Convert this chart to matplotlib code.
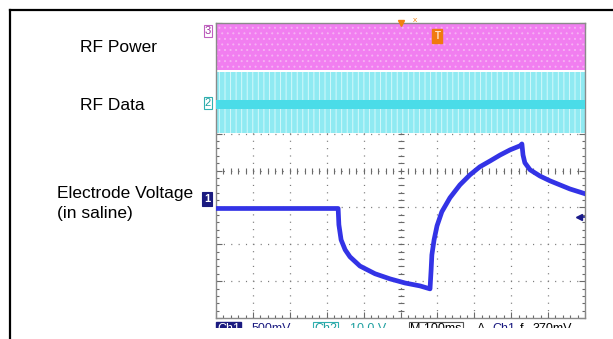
import numpy as np
import matplotlib
matplotlib.use("Agg")
import matplotlib.pyplot as plt
from matplotlib.patches import Rectangle
from matplotlib.lines import Line2D

plt.rcParams["font.family"] = ["Liberation Sans", "DejaVu Sans"]
plt.rcParams["lines.scale_dashes"] = False
plt.rcParams["hatch.linewidth"] = 0.7

# time axis: 100 ms / div, 10 div ; vertical axis in divisions (0..8)
rf_power_t = [0, 1000]
rf_power_hi = [8.0, 8.0]
rf_power_lo = [6.73, 6.73]

rf_data_t = [0, 1000]
rf_data_hi = [6.67, 6.67]
rf_data_lo = [5.02, 5.02]
rf_data_mid_hi = [5.90, 5.90]
rf_data_mid_lo = [5.68, 5.68]

electrode_t = [0, 331, 333, 339, 350, 363, 390, 431, 472, 512, 553, 580,
               583, 585, 591, 599, 612, 634, 661, 688, 715, 743, 770, 797, 824, 829,
               832, 837, 851, 878, 905, 932, 959, 1000]
electrode_v = [2.97, 2.97, 2.53, 2.12, 1.85, 1.66, 1.41, 1.20, 1.06, 0.95, 0.87, 0.79,
               1.31, 1.71, 2.12, 2.50, 2.88, 3.26, 3.61, 3.88, 4.10, 4.26, 4.42, 4.56, 4.67, 4.72,
               4.42, 4.21, 4.02, 3.85, 3.72, 3.61, 3.50, 3.37]
trigger_level = 2.75

labels = ["RF Power", "RF Data", "Electrode Voltage", "(in saline)"]

W, H = 613, 339


def fx(px):
    return px / W


def fy(py):
    return 1 - py / H


fig = plt.figure(figsize=(6.13, 3.39), dpi=100)
fig.patch.set_facecolor("white")

ax = fig.add_axes([fx(216), fy(318), 369 / W, 295 / H])
ax.set_xlim(0, 1000)
ax.set_ylim(0, 8)

# traces
ax.fill_between(rf_power_t, rf_power_lo, rf_power_hi, facecolor="#F17EF0",
                edgecolor="#F6B0F4", hatch="...", linewidth=0, zorder=2)
ax.fill_between(rf_data_t, rf_data_lo, rf_data_hi, facecolor="#8FEAF2",
                edgecolor="#D4F9FB", hatch="|||", linewidth=0, zorder=2)
ax.fill_between(rf_data_t, rf_data_mid_lo, rf_data_mid_hi, facecolor="#4ADCE8",
                linewidth=0, zorder=3)

ax.plot(electrode_t, electrode_v, color="#3333E6", lw=3.4, zorder=5,
        solid_joinstyle="round")

# graticule
for gx in range(100, 1000, 100):
    ax.axvline(gx, color="#7A7A7A", lw=0.9, linestyle=(0, (0.8, 4.5)), zorder=1)
for gy in range(1, 8):
    ax.axhline(gy, color="#7A7A7A", lw=0.9, linestyle=(0, (0.8, 4.5)), zorder=1)

minor_x = np.arange(0, 1001, 20)
minor_y = np.arange(0, 8.01, 0.2)
ax.plot(np.full(minor_y.size, 500), minor_y, ls="none", marker="_", ms=5,
        mew=0.8, color="#6A6A6A", zorder=1)
ax.plot(minor_x, np.full(minor_x.size, 4), ls="none", marker="|", ms=5,
        mew=0.8, color="#6A6A6A", zorder=1)

ax.set_xticks(np.arange(0, 1001, 100))
ax.set_yticks(np.arange(0, 8.01, 1))
ax.set_xticks(minor_x, minor=True)
ax.set_yticks(minor_y, minor=True)
ax.tick_params(which="both", direction="in", top=True, right=True,
               labelbottom=False, labelleft=False, color="#6A6A6A", width=0.8)
ax.tick_params(which="major", length=4)
ax.tick_params(which="minor", length=2.5)
for s in ax.spines.values():
    s.set_color("#8A8A8A")
    s.set_linewidth(1.0)

# trigger markers
ax.plot([500], [8], marker="v", ms=5, color="#F08010", clip_on=False, zorder=6)
ax.text(600, 7.65, "T", fontsize=7, color="#FFE0C0", ha="center", va="center",
        fontweight="bold",
        bbox=dict(boxstyle="square,pad=0.2", fc="#F07A10", ec="#F07A10"), zorder=6)
fig.text(fx(415), fy(20), "x", fontsize=6, color="#F08010", ha="center", va="center")
ax.plot([985], [trigger_level], marker="<", ms=4.5, color="#1A1A8A", clip_on=False, zorder=6)
ax.add_line(Line2D([985, 1000], [trigger_level, trigger_level], color="#1A1A8A", lw=1.2))

# channel markers on the left
fig.text(fx(208), fy(31), "3", fontsize=8, color="#A030A0", ha="center", va="center",
         bbox=dict(boxstyle="square,pad=0.1", fc="white", ec="#C060C0", lw=0.8))
fig.text(fx(208), fy(103), "2", fontsize=8, color="#20A0A0", ha="center", va="center",
         bbox=dict(boxstyle="square,pad=0.1", fc="white", ec="#30B0B0", lw=0.8))
fig.text(fx(207), fy(199), "1", fontsize=8, color="white", ha="center", va="center",
         fontweight="bold",
         bbox=dict(boxstyle="square,pad=0.15", fc="#1A1A80", ec="#1A1A80", lw=0.8))

# channel labels
fig.text(fx(80), fy(52), labels[0], fontsize=12.5, color="black", va="baseline")
fig.text(fx(80), fy(110), labels[1], fontsize=12.5, color="black", va="baseline")
fig.text(fx(57), fy(197.5), labels[2], fontsize=12.5, color="black", va="baseline")
fig.text(fx(57), fy(218), labels[3], fontsize=12.5, color="black", va="baseline")

# status bar (cut off)
sb_y = fy(323)
fig.text(fx(217), sb_y, "Ch1", fontsize=9, color="white", va="top", zorder=5,
         bbox=dict(boxstyle="square,pad=0.1", fc="#1A1A80", ec="#1A1A80"))
fig.text(fx(252), sb_y, "500mV", fontsize=9, color="#1A1A80", va="top", zorder=5)
fig.text(fx(314), sb_y, "Ch2", fontsize=9, color="#20A0A0", va="top", zorder=5,
         bbox=dict(boxstyle="square,pad=0.1", fc="white", ec="#30B0B0", lw=0.8))
fig.text(fx(350), sb_y, "10.0 V", fontsize=9, color="#20A0A0", va="top", zorder=5)
fig.text(fx(410), sb_y, "M 100ms", fontsize=9, color="black", va="top", zorder=5,
         bbox=dict(boxstyle="square,pad=0.1", fc="white", ec="#555555", lw=0.8))
fig.text(fx(477), sb_y, "A", fontsize=9, color="black", va="top", zorder=5)
fig.text(fx(492), sb_y, "Ch1", fontsize=9, color="#1A1A80", va="top", zorder=5)
fig.text(fx(520), sb_y, "f", fontsize=9, color="black", va="top", zorder=5)
fig.text(fx(533), sb_y, "370mV", fontsize=9, color="black", va="top", zorder=5)
fig.patches.append(Rectangle((fx(150), 0), 1 - fx(150), fy(328), transform=fig.transFigure,
                             fc="white", ec="none", zorder=10))
fig.patches.append(Rectangle((fx(590), 0), 1 - fx(590), fy(321), transform=fig.transFigure,
                             fc="white", ec="none", zorder=10))

# outer frame (top and left edges only)
fig.add_artist(Line2D([fx(9.5), 1], [fy(10), fy(10)], color="black", lw=1.6, zorder=11))
fig.add_artist(Line2D([fx(9.5), fx(9.5)], [0, fy(10)], color="black", lw=1.6, zorder=11))

fig.savefig("out.png", dpi=100)
